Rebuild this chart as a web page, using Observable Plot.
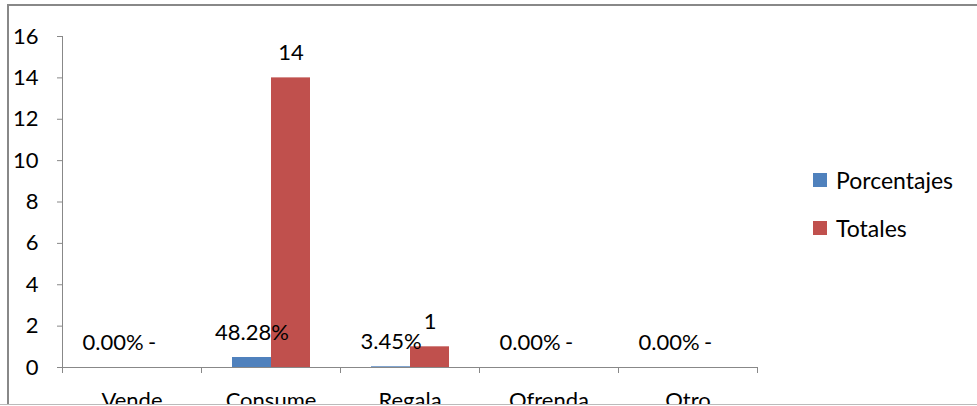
<!DOCTYPE html>
<html>
<head>
<meta charset="utf-8">
<script src="https://cdn.jsdelivr.net/npm/d3@7"></script>
<script src="https://cdn.jsdelivr.net/npm/@observablehq/plot@0.6"></script>
<style>
  html, body { margin: 0; padding: 0; background: #fff; }
  #wrap { position: relative; width: 977px; height: 406px; overflow: hidden; font-family: Lato, sans-serif; }
  #chart { position: absolute; left: 0; top: 0; }
  #border { position: absolute; left: 7px; top: 4px; right: -4px; bottom: 1px; border-top: 2px solid #888; border-left: 2px solid #888; pointer-events: none; }
  #bottomline { position: absolute; left: 0; top: 404px; width: 977px; height: 2px; background: #fff; border-top: 1px solid #bbb; box-sizing: border-box; }
  .legend { position: absolute; left: 813px; font-size: 23px; color: #000; display: flex; align-items: center; }
  .legend span.sw { display: inline-block; width: 14px; height: 14px; margin-right: 9px; }
</style>
</head>
<body>
<div id="wrap">
  <div id="chart"></div>
  <div id="border"></div>
  <div id="bottomline"></div>
  <div id="legend"></div>
</div>
<script>
const categories = ["Vende", "Consume", "Regala", "Ofrenda", "Otro"];
const series = ["Porcentajes", "Totales"];
const porcentajes = [0, 0.4828, 0.0345, 0, 0];
const totales = [0, 14, 1, 0, 0];
const yTicks = [0, 2, 4, 6, 8, 10, 12, 14, 16];
const colors = ["#4F81BD", "#C0504D"];

const pct = d3.format(".2%");
const data = categories.flatMap((c, i) => [
  {cat: c, series: series[0], value: porcentajes[i], label: pct(porcentajes[i])},
  {cat: c, series: series[1], value: totales[i], label: totales[i] === 0 ? "-" : String(totales[i])}
]);

const plot = Plot.plot({
  width: 977,
  height: 406,
  marginLeft: 62,
  marginRight: 220,
  marginTop: 36,
  marginBottom: 39,
  style: {fontFamily: "Lato, sans-serif", fontSize: "22px", color: "#000", background: "transparent"},
  fx: {domain: categories, padding: 0, label: null},
  x: {domain: series, paddingInner: 0, paddingOuter: 0.782, axis: null},
  y: {domain: [0, 16], label: null},
  color: {domain: series, range: colors},
  marks: [
    Plot.axisY({ticks: yTicks, tickSize: 5, tickPadding: 19, stroke: "#888", label: null, fontSize: 22}),
    Plot.axisFx({anchor: "bottom", tickSize: 0, tickPadding: 25, label: null, fontSize: 22}),
    Plot.frame({anchor: "left", facet: "super", stroke: "#888"}),
    Plot.frame({anchor: "left", stroke: "#888", insetTop: 331, insetBottom: -5}),
    Plot.frame({anchor: "right", stroke: "#888", insetTop: 331, insetBottom: -5}),
    Plot.barY(data, {fx: "cat", x: "series", y: "value", fill: "series"}),
    Plot.ruleY([0], {stroke: "#888", insetLeft: -5}),
    Plot.text(data, {fx: "cat", x: "series", y: "value", text: "label", dy: -25, fill: "#000", fontSize: 22})
  ]
});
document.getElementById("chart").appendChild(plot);

const legend = document.getElementById("legend");
series.forEach((s, i) => {
  const row = document.createElement("div");
  row.className = "legend";
  row.style.top = (166 + i * 48) + "px";
  row.innerHTML = `<span class="sw" style="background:${colors[i]}"></span><span>${s}</span>`;
  legend.appendChild(row);
});
</script>
</body>
</html>
